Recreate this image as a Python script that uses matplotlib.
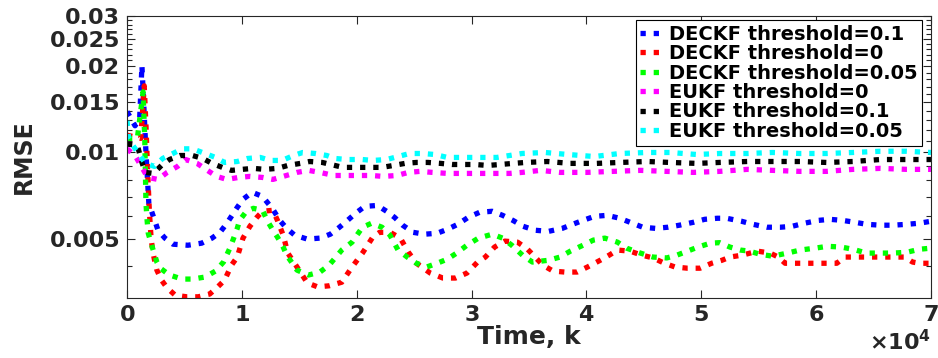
import numpy as np
import matplotlib
matplotlib.use('Agg')
import matplotlib.pyplot as plt
from matplotlib.ticker import FixedLocator, FuncFormatter, ScalarFormatter, NullFormatter

# RMSE curves, time in samples k
k_deckf_01 = [0, 700, 1100, 1300, 1450, 1650, 1900, 2200, 2700, 3300,
              4000, 5300, 6500, 7400, 8100, 8700, 9600, 10100, 10900, 11800,
              12700, 13300, 13900, 14600, 15700, 16800, 17700, 18500, 19200, 19900,
              20700, 21800, 22600, 23300, 24000, 24900, 25900, 27000, 27900, 28800,
              29700, 30700, 31800, 32700, 33600, 34500, 35500, 36700, 37900, 38800,
              39700, 40700, 41800, 42900, 44000, 44900, 46000, 47100, 48100, 49300,
              50300, 51400, 52200, 53500, 54500, 55700, 56900, 57900, 59000, 60200,
              61200, 62300, 63400, 64400, 65600, 66700, 67900, 69000, 70000]
rmse_deckf_01 = [0.0139, 0.0124, 0.0131, 0.0201, 0.0150, 0.0100, 0.00664, 0.00613, 0.00535, 0.00502,
                 0.00478, 0.00474, 0.00482, 0.00502, 0.00526, 0.00566, 0.00643, 0.00686, 0.00726, 0.00702,
                 0.00633, 0.00579, 0.00543, 0.00514, 0.00498, 0.00502, 0.00518, 0.00548, 0.00579, 0.00613,
                 0.00648, 0.00653, 0.00623, 0.00593, 0.00557, 0.00526, 0.00518, 0.00522, 0.00539, 0.00561,
                 0.00593, 0.00618, 0.00623, 0.00603, 0.00579, 0.00552, 0.00535, 0.00530, 0.00543, 0.00561,
                 0.00579, 0.00598, 0.00603, 0.00589, 0.00566, 0.00548, 0.00543, 0.00548, 0.00557, 0.00570,
                 0.00584, 0.00589, 0.00589, 0.00575, 0.00561, 0.00548, 0.00548, 0.00552, 0.00566, 0.00579,
                 0.00584, 0.00579, 0.00570, 0.00561, 0.00557, 0.00557, 0.00561, 0.00566, 0.00575]

k_deckf_0 = [0, 800, 1200, 1500, 1650, 1800, 1950, 2100, 2250, 2400,
             2600, 3000, 3500, 4200, 5200, 6200, 7200, 7900, 8500, 9100,
             9600, 10100, 10700, 11300, 11800, 12700, 13100, 13600, 14000, 14800,
             15700, 16600, 17600, 18700, 19600, 20500, 21400, 22000, 22900, 23800,
             24500, 25200, 26400, 27500, 28600, 29600, 30500, 31200, 32000, 32900,
             34000, 34800, 35200, 36200, 37100, 38100, 39200, 40100, 41200, 42000,
             42700, 43800, 44800, 45800, 46800, 47700, 48800, 49900, 50900, 51800,
             52500, 53600, 54900, 56000, 56700, 57300, 58300, 59500, 60600, 61800,
             62500, 63600, 64700, 65800, 66700, 67700, 68400, 69000, 70000]
rmse_deckf_0 = [0.0115, 0.0113, 0.0112, 0.0171, 0.0125, 0.0085, 0.0062, 0.0050, 0.00450, 0.00420,
                0.00388, 0.00358, 0.00336, 0.00317, 0.00313, 0.00313, 0.00320, 0.00339, 0.00358, 0.00404,
                0.00431, 0.00502, 0.00552, 0.00593, 0.00623, 0.00628, 0.00579, 0.00514, 0.00445, 0.00398,
                0.00350, 0.00339, 0.00342, 0.00352, 0.00398, 0.00445, 0.00506, 0.00526, 0.00526, 0.00502,
                0.00448, 0.00410, 0.00379, 0.00364, 0.00364, 0.00379, 0.00413, 0.00431, 0.00467, 0.00490,
                0.00486, 0.00462, 0.00445, 0.00404, 0.00385, 0.00382, 0.00382, 0.00398, 0.00420, 0.00438,
                0.00456, 0.00452, 0.00438, 0.00428, 0.00410, 0.00398, 0.00394, 0.00394, 0.00410, 0.00420,
                0.00431, 0.00438, 0.00452, 0.00445, 0.00431, 0.00410, 0.00410, 0.00410, 0.00410, 0.00410,
                0.00431, 0.00431, 0.00431, 0.00431, 0.00431, 0.00431, 0.00414, 0.00410, 0.00410]

k_deckf_005 = [0, 900, 1400, 1550, 1650, 1750, 1850, 2200, 2600, 2900,
               3700, 4800, 5700, 6800, 7700, 8400, 9000, 9600, 9800, 10400,
               11000, 11800, 12200, 12700, 13100, 13600, 13900, 14800, 15800, 16800,
               17600, 18700, 19600, 20500, 21300, 22200, 22900, 23600, 24400, 25200,
               26100, 27000, 27900, 28700, 29600, 30600, 31800, 32700, 33500, 34500,
               35300, 36700, 37700, 38600, 39700, 40600, 41600, 42700, 43500, 44700,
               45800, 47000, 47900, 48800, 49700, 50800, 51600, 52500, 53400, 54200,
               55100, 56200, 57500, 58600, 59900, 61000, 62200, 63200, 64400, 65600,
               66700, 67900, 69000, 70000]
rmse_deckf_005 = [0.0112, 0.0112, 0.0163, 0.0110, 0.00664, 0.00579, 0.00522, 0.00467, 0.00414, 0.00394,
                  0.00373, 0.00361, 0.00361, 0.00367, 0.00385, 0.00414, 0.00467, 0.00543, 0.00579, 0.00623,
                  0.00638, 0.00628, 0.00579, 0.00535, 0.00506, 0.00467, 0.00438, 0.00388, 0.00373, 0.00382,
                  0.00404, 0.00456, 0.00486, 0.00548, 0.00566, 0.00548, 0.00514, 0.00456, 0.00431, 0.00410,
                  0.00398, 0.00410, 0.00424, 0.00445, 0.00474, 0.00502, 0.00518, 0.00502, 0.00474, 0.00435,
                  0.00414, 0.00420, 0.00431, 0.00452, 0.00474, 0.00494, 0.00502, 0.00486, 0.00463, 0.00445,
                  0.00431, 0.00428, 0.00438, 0.00452, 0.00467, 0.00482, 0.00484, 0.00467, 0.00456, 0.00452,
                  0.00441, 0.00434, 0.00445, 0.00456, 0.00463, 0.00470, 0.00467, 0.00459, 0.00445, 0.00445,
                  0.00445, 0.00448, 0.00459, 0.00463]

k_eukf_0 = [0, 700, 1300, 1800, 2700, 3500, 4400, 5100, 6100, 7000,
            7800, 8700, 9700, 10700, 11800, 12700, 13600, 14800, 15800, 16800,
            18000, 19200, 20300, 21300, 22300, 23500, 24500, 25500, 26600, 27900,
            29000, 30100, 31300, 32500, 33300, 34400, 36000, 37700, 40000, 42300,
            44700, 47000, 49300, 51600, 54000, 56200, 58600, 60900, 63200, 65600,
            67900, 70000]
rmse_eukf_0 = [0.0103, 0.00976, 0.00887, 0.00818, 0.00805, 0.00852, 0.00894, 0.00945, 0.00916, 0.00866,
               0.00825, 0.00805, 0.00818, 0.00825, 0.00818, 0.00805, 0.00825, 0.00852, 0.00866, 0.00852,
               0.00831, 0.00831, 0.00831, 0.00831, 0.00825, 0.00831, 0.00852, 0.00859, 0.00852, 0.00845,
               0.00845, 0.00845, 0.00845, 0.00845, 0.00845, 0.00852, 0.00866, 0.00852, 0.00852, 0.00859,
               0.00866, 0.00859, 0.00852, 0.00859, 0.00873, 0.00866, 0.00859, 0.00859, 0.00873, 0.00880,
               0.00873, 0.00873]

k_eukf_01 = [0, 900, 1300, 1600, 2300, 3000, 3700, 4600, 5700, 6600,
             7400, 8300, 9100, 10000, 11000, 12000, 13100, 14000, 15100, 15900,
             17000, 18800, 20000, 21200, 22200, 23200, 24200, 25200, 26200, 27300,
             28300, 29300, 30300, 31400, 32500, 33600, 34700, 36600, 38600, 40900,
             42900, 45300, 47300, 49600, 51600, 54000, 56200, 58600, 60900, 63200,
             65600, 67900, 70000]
rmse_eukf_01 = [0.0107, 0.0106, 0.00923, 0.00852, 0.00845, 0.00901, 0.00945, 0.00976, 0.00976, 0.00953,
                0.00916, 0.00887, 0.00866, 0.00873, 0.00880, 0.00873, 0.00880, 0.00901, 0.00916, 0.00930,
                0.00923, 0.00887, 0.00887, 0.00887, 0.00887, 0.00901, 0.00916, 0.00923, 0.00923, 0.00916,
                0.00908, 0.00908, 0.00908, 0.00901, 0.00908, 0.00916, 0.00923, 0.00930, 0.00916, 0.00916,
                0.00923, 0.00930, 0.00923, 0.00916, 0.00923, 0.00930, 0.00930, 0.00930, 0.00923, 0.00930,
                0.00945, 0.00945, 0.00945]

k_eukf_005 = [0, 150, 500, 1600, 2400, 3100, 4000, 4800, 5700, 6800,
              7700, 8500, 9600, 10500, 11600, 12500, 13500, 14500, 15300, 16400,
              17400, 18100, 19200, 20500, 21400, 22600, 23600, 24600, 25700, 26800,
              27900, 29000, 30000, 31000, 32200, 33300, 34400, 36400, 38400, 40700,
              42900, 45300, 47300, 49600, 51600, 54000, 56200, 58600, 60900, 63200,
              65600, 67900, 70000]
rmse_eukf_005 = [0.0129, 0.0112, 0.0106, 0.00916, 0.00894, 0.00953, 0.00992, 0.0103, 0.0103, 0.00992,
                 0.00961, 0.00923, 0.00930, 0.00953, 0.00961, 0.00938, 0.00938, 0.00976, 0.0100, 0.00992,
                 0.00976, 0.00953, 0.00945, 0.00945, 0.00938, 0.00945, 0.00968, 0.00992, 0.00992, 0.00984,
                 0.00961, 0.00961, 0.00961, 0.00961, 0.00961, 0.00976, 0.00992, 0.0100, 0.00984, 0.00968,
                 0.00992, 0.0100, 0.0100, 0.00984, 0.00992, 0.00992, 0.0100, 0.00992, 0.00992, 0.0100,
                 0.0101, 0.0101, 0.0100]

labels = ['DECKF threshold=0.1', 'DECKF threshold=0', 'DECKF threshold=0.05',
          'EUKF threshold=0', 'EUKF threshold=0.1', 'EUKF threshold=0.05']
ytick_vals = [0.005, 0.01, 0.015, 0.02, 0.025, 0.03]
xtick_vals = [0, 10000, 20000, 30000, 40000, 50000, 60000, 70000]

series = [(k_deckf_01, rmse_deckf_01, '#0000ff'),
          (k_deckf_0, rmse_deckf_0, '#ff0000'),
          (k_deckf_005, rmse_deckf_005, '#00ff00'),
          (k_eukf_0, rmse_eukf_0, '#ff00ff'),
          (k_eukf_01, rmse_eukf_01, '#000000'),
          (k_eukf_005, rmse_eukf_005, '#00ffff')]

plt.rcParams['font.family'] = ['DejaVu Sans']
plt.rcParams['font.weight'] = 'bold'
plt.rcParams['mathtext.default'] = 'bf'

dark = '#262626'
fig = plt.figure(figsize=(9.38, 3.58), dpi=100)
ax = fig.add_axes([0.1354, 0.1676, 0.8571, 0.7877])

for (k, r, c), lab in zip(series, labels):
    ax.plot(k, r, color=c, lw=3.8, ls=(0, (1.0, 1.5)), label=lab)

ax.set_yscale('log')
ax.set_ylim(0.0031, 0.03)
ax.set_xlim(0, 70000)
ax.yaxis.set_major_locator(FixedLocator(ytick_vals))
ax.yaxis.set_major_formatter(FuncFormatter(lambda v, p: '%g' % v))
ax.yaxis.set_minor_locator(FixedLocator(np.arange(0.004, 0.0305, 0.001)))
ax.yaxis.set_minor_formatter(NullFormatter())
ax.set_xticks(xtick_vals)
fmt = ScalarFormatter(useMathText=True)
fmt.set_powerlimits((0, 0))
ax.xaxis.set_major_formatter(fmt)
ax.xaxis.get_offset_text().set_fontsize(16)
ax.xaxis.get_offset_text().set_color(dark)

ax.tick_params(which='both', direction='in', top=True, right=True,
               colors=dark, labelsize=16, width=0.8)
ax.tick_params(which='major', length=6, pad=5)
ax.tick_params(which='minor', length=3.5)
for s in ax.spines.values():
    s.set_color(dark)
    s.set_linewidth(0.8)

ax.set_xlabel('Time, k', fontsize=18, fontweight='bold', color=dark, labelpad=0)
ax.set_ylabel('RMSE', fontsize=17, fontweight='bold', color=dark)
ax.yaxis.set_label_coords(-0.113, 0.5)

leg = ax.legend(loc='upper right', bbox_to_anchor=(0.989, 0.986), borderaxespad=0,
                fontsize=14, handlelength=0.95, handletextpad=0.5, labelspacing=0.02,
                borderpad=0.25, fancybox=False, framealpha=1, edgecolor='black')
leg.get_frame().set_linewidth(0.8)

fig.savefig('out.png', dpi=100)
